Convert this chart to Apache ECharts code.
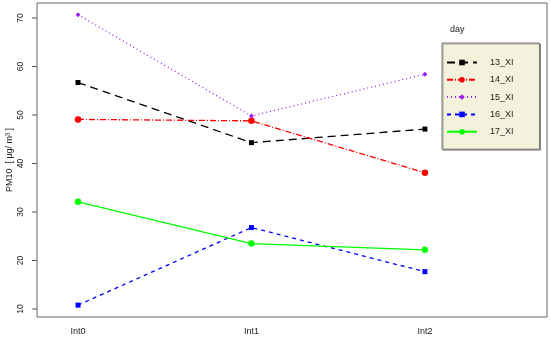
<!DOCTYPE html>
<html>
<head>
<meta charset="utf-8">
<script src="https://cdn.jsdelivr.net/npm/echarts@6/dist/echarts.min.js"></script>
<style>
  html, body { margin: 0; padding: 0; background: #fff; }
  #chart { width: 550px; height: 339px; }
</style>
</head>
<body>
<div id="chart"></div>
<script>
// categories on the x axis
const intervals = ['Int0', 'Int1', 'Int2']
const yTicks = [10, 20, 30, 40, 50, 60, 70]

// PM10 per day
const day13 = [56.7, 44.3, 47.1]
const day14 = [49.1, 48.8, 38.1]
const day15 = [70.7, 49.8, 58.4]
const day16 = [10.8, 26.8, 17.7]
const day17 = [32.1, 23.5, 22.2]

const font = 'Liberation Sans, Arial, sans-serif'
const xMin = -0.2365

const mk = (name, values, color, dash, symbol, size) => ({
  name,
  type: 'line',
  data: values.map((v, i) => [i, v]),
  symbol,
  symbolSize: size,
  showSymbol: true,
  itemStyle: { color },
  lineStyle: { color, width: 1.3, type: dash },
  emphasis: { disabled: true },
  z: 3
})

const chart = echarts.init(document.getElementById('chart'))
chart.setOption({
  animation: false,
  textStyle: { fontFamily: font },
  grid: {
    left: 37, right: 3, top: 3, bottom: 22,
    outerBoundsMode: 'none',
    containLabel: false,
    show: true, borderColor: '#666', borderWidth: 1, backgroundColor: 'transparent'
  },
  xAxis: {
    type: 'value',
    min: xMin,
    max: 2.704,
    splitLine: { show: false },
    axisLine: { show: false, onZero: false },
    axisTick: { show: false },
    axisLabel: {
      customValues: [0, 1, 2],
      formatter: v => intervals[Math.round(v)],
      color: '#222', fontSize: 9, margin: 10
    }
  },
  yAxis: {
    type: 'value',
    min: 8.35,
    max: 73.1,
    name: 'PM10  [ µg/ m³ ]',
    nameLocation: 'middle',
    nameGap: 22.5,
    nameRotate: 90,
    nameMoveOverlap: false,
    nameTextStyle: { color: '#222', fontSize: 9 },
    splitLine: { show: false },
    axisLine: { show: false, onZero: false },
    axisTick: { show: false },
    axisLabel: {
      customValues: yTicks,
      rotate: 90,
      color: '#222', fontSize: 8.5, margin: 12
    }
  },
  legend: {
    orient: 'vertical',
    left: 442,
    top: 43,
    itemWidth: 30,
    itemHeight: 7,
    itemGap: 8.3,
    padding: [15, 26, 13, 4],
    backgroundColor: '#f4f2dc',
    borderColor: '#777',
    borderWidth: 1,
    shadowColor: 'rgba(0,0,0,0.35)',
    shadowOffsetX: 1,
    shadowOffsetY: 1,
    textStyle: { fontSize: 9, color: '#222', padding: [0, 0, 0, 8] },
    data: ['13_XI', '14_XI', '15_XI', '16_XI', '17_XI']
  },
  graphic: [{
    type: 'text',
    left: 450,
    top: 25,
    style: { text: 'day', fontSize: 9, fill: '#222', fontFamily: font }
  }],
  series: [
    mk('13_XI', day13, '#000000', [8, 5], 'rect', 5),
    mk('14_XI', day14, '#ff0000', [6, 2, 1, 2], 'circle', 6.5),
    mk('15_XI', day15, '#a020f0', [1, 3], 'diamond', 5),
    mk('16_XI', day16, '#0000ff', [4, 4], 'rect', 5),
    mk('17_XI', day17, '#00ff00', 'solid', 'circle', 6.5),
    {
      // y ticks outside the left edge
      type: 'custom',
      silent: true,
      clip: false,
      data: yTicks.map(v => [xMin, v]),
      renderItem: (params, api) => {
        const p = api.coord([api.value(0), api.value(1)])
        return {
          type: 'line',
          shape: { x1: p[0] - 5, y1: p[1], x2: p[0], y2: p[1] },
          style: { stroke: '#555', lineWidth: 1 }
        }
      }
    }
  ]
})
</script>
</body>
</html>
